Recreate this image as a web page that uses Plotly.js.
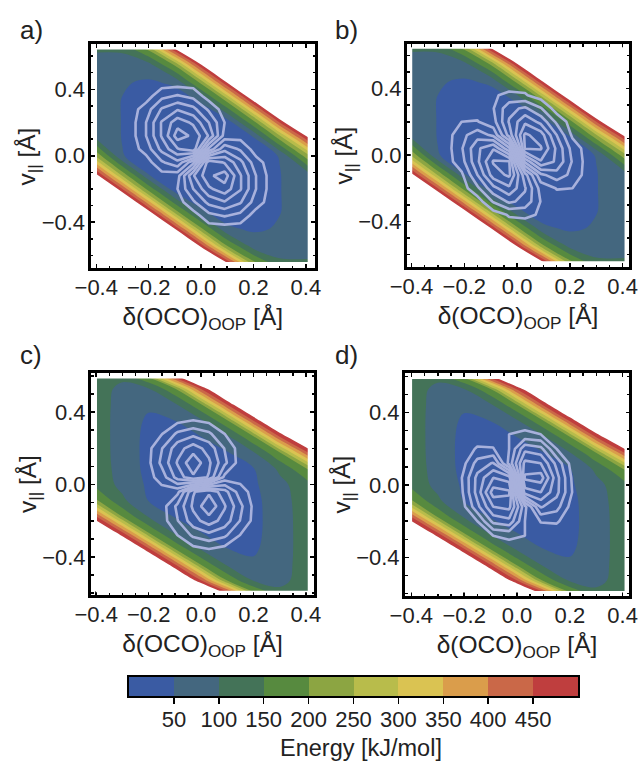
<!DOCTYPE html>
<html>
<head>
<meta charset="utf-8">
<script src="https://cdn.plot.ly/plotly-3.0.1.min.js"></script>
<style>html,body{margin:0;padding:0;background:#fff}#chart{width:638px;height:765px}</style>
</head>
<body>
<div id="chart"></div>
<script>
// Energy landscape (kJ/mol). Values above 500 are the white, off-scale area.
const ENERGY_X = [-0.4,-0.3,-0.2,-0.1,0,0.1,0.2,0.3,0.41];
const ENERGY_Y_AB = [-0.645,-0.55,-0.44,-0.33,-0.22,-0.11,0,0.11,0.22,0.33,0.44,0.55,0.645];
const ENERGY_AB = [
 [750,750,750,750,750,500,215,110,105],
 [750,750,750,750,500,210,85,75,85],
 [750,750,750,500,210,58,42,55,80],
 [750,750,500,210,55,24,28,48,80],
 [750,500,212,50,20,10,25,48,82],
 [500,220,48,18,8,8,25,48,88],
 [235,52,28,10,5,10,28,52,235],
 [88,48,25,8,8,18,48,220,500],
 [82,48,25,10,20,50,212,500,750],
 [80,48,28,24,55,210,500,750,750],
 [80,55,42,58,210,500,750,750,750],
 [85,75,85,210,500,750,750,750,750],
 [105,110,215,500,750,750,750,750,750]
];
const ENERGY_Y_CD = [-0.59,-0.528,-0.44,-0.352,-0.264,-0.176,-0.088,0,0.088,0.176,0.264,0.352,0.44,0.528,0.59];
const ENERGY_CD = [
 [650,650,650,650,650,450,192,110,128],
 [650,650,650,650,450,190,95,85,126],
 [650,650,650,450,190,90,58,80,125],
 [650,650,450,190,90,50,42,78,125],
 [650,450,192,90,50,22,36,78,125],
 [450,195,95,47,20,10,35,78,126],
 [205,110,48,22,8,8,36,80,128],
 [135,85,42,10,5,10,42,85,135],
 [128,80,36,8,8,22,48,110,205],
 [126,78,35,10,20,47,95,195,450],
 [125,78,36,22,50,90,192,450,650],
 [125,78,42,50,90,190,450,650,650],
 [125,80,58,90,190,450,650,650,650],
 [126,85,95,190,450,650,650,650,650],
 [128,110,192,450,650,650,650,650,650]
];

// Overlay field whose contour rings are the pale lines; signed per lobe.
const LOBE_X = [-0.27,-0.21,-0.15,-0.09,-0.03,0.03,0.09,0.15,0.21,0.27];
const LOBE_Y = [-0.44,-0.36,-0.28,-0.2,-0.12,-0.04,0.04,0.12,0.2,0.28,0.36,0.44];
const LOBE_A = [
 [0,0,0,0,0,0,0,0,0,0],
 [0,0,0,0,0,-1.2,-1.6,-1.2,0,0],
 [0,0,0,0,-1.3,-2.8,-3.4,-2.6,-1,0],
 [0,0,0,-0.5,-2.5,-4.3,-5.1,-3.6,-1.5,0],
 [0,0,0.1,-0.1,-3.4,-5.3,-6,-3.6,-1.5,0],
 [0,0,1.35,2.2,-0.2,-5.2,-4.4,-2.8,-0.9,0],
 [0,0.9,2.8,4.4,5.2,0.2,-2.2,-1.35,0,0],
 [0,1.5,3.6,6,5.3,3.4,0.1,-0.1,0,0],
 [0,1.5,3.6,5.1,4.3,2.5,0.5,0,0,0],
 [0,1,2.6,3.4,2.8,1.3,0,0,0,0],
 [0,0,1.2,1.6,1.2,0,0,0,0,0],
 [0,0,0,0,0,0,0,0,0,0]
];
const LOBE_B = [
 [0,0,0,0,0,0,0,0,0,0],
 [0,0,0,0,-0.6,-0.7,-0.4,0,0,0],
 [0,0,0,-1.6,-2.7,-2.2,-0.45,0.1,0,0],
 [0,0,-1.3,-3.2,-4.3,-2.6,-0.1,0.55,0.5,0],
 [0,-0.3,-2.5,-5,-5.7,-1.9,1.25,2.1,1.2,0],
 [0,-1.1,-3.3,-5.6,-5.6,1.7,4.4,3.3,1.4,0],
 [0,-1.4,-3.3,-4.4,-1.7,5.6,5.6,3.3,1.1,0],
 [0,-1.2,-2.1,-1.25,1.9,5.7,5,2.5,0.3,0],
 [0,-0.5,-0.55,0.1,2.6,4.3,3.2,1.3,0,0],
 [0,0,-0.1,0.45,2.2,2.7,1.6,0,0,0],
 [0,0,0,0.4,0.7,0.6,0,0,0,0],
 [0,0,0,0,0,0,0,0,0,0]
];
const LOBE_C = [
 [0,0,0,0,0,0,0,0,0,0],
 [0,0,0,0,-0.1,-0.4,-0.1,0,0,0],
 [0,0,0,-0.5,-1.7,-2.2,-1.7,-0.45,0,0],
 [0,0,0,-1.45,-3.1,-4,-3.1,-1.45,0,0],
 [0,0,0,-1.75,-3.7,-5.3,-3.6,-1.75,0,0],
 [0,0,0.1,-0.2,-3.4,-4.3,-2.9,-0.96,0,0],
 [0,0,0.96,2.9,4.3,3.4,0.2,-0.1,0,0],
 [0,0,1.75,3.6,5.3,3.7,1.75,0,0,0],
 [0,0,1.45,3.1,4,3.1,1.45,0,0,0],
 [0,0,0.45,1.7,2.2,1.7,0.5,0,0,0],
 [0,0,0,0.1,0.4,0.1,0,0,0,0],
 [0,0,0,0,0,0,0,0,0,0]
];
const LOBE_D = [
 [0,0,0,0,0,0,0,0,0,0],
 [0,0,0,0,0,0,0,0,0,0],
 [0,0,0,-0.5,-0.7,-0.5,0,0,0,0],
 [0,0,-0.5,-2.8,-3.2,-0.5,0.55,0.6,0,0],
 [0,0,-2.2,-4.5,-4.8,-0.8,2.6,1.9,0,0],
 [0,-0.3,-2.9,-6,-5.7,4,4.5,2.8,0.45,0],
 [0,-0.45,-2.8,-4.5,-4,5.7,6,2.9,0.3,0],
 [0,0,-1.9,-2.6,0.8,4.8,4.5,2.2,0,0],
 [0,0,-0.6,-0.55,0.5,3.2,2.8,0.5,0,0],
 [0,0,0,0,0.5,0.7,0.5,0,0,0],
 [0,0,0,0,0,0,0,0,0,0],
 [0,0,0,0,0,0,0,0,0,0]
];

const X_TICKS = [-0.4,-0.2,0,0.2,0.4];
const Y_TICKS = [-0.4,0,0.4];
const PANEL_LABELS = ['a)','b)','c)','d)'];
const BAND_MIDS = [25,75,125,175,225,275,325,375,425,475];
const BAND_TICKS = [50,100,150,200,250,300,350,400,450];
const BAND_COLORS = ['#3a5ba3','#44677f','#447358','#578a3f','#8ca542','#b8bc4b','#dac352','#da9d4b','#ca6848','#bf3e3e'];
const X_TITLE = 'δ(OCO)<sub>OOP</sub> [Å]';
const Y_TITLE = 'v<sub>||</sub> [Å]';
const BAR_TITLE = 'Energy [kJ/mol]';

const W = 638, H = 765;
const FONT = 'Liberation Sans, Arial, sans-serif';
const INK = '#222';
const LINE_COLOR = '#a8b1dc';

const panels = [
 {e:ENERGY_AB, ey:ENERGY_Y_AB, z:LOBE_A, lv:5.5, box:[90.5,315,44,268],  xr:[-0.422,0.435], yr:[-0.676,0.673], lab:[18,30]},
 {e:ENERGY_AB, ey:ENERGY_Y_AB, z:LOBE_B, lv:5.5, box:[407,629,44,267],   xr:[-0.417,0.424], yr:[-0.675,0.669], lab:[333,30]},
 {e:ENERGY_CD, ey:ENERGY_Y_CD, z:LOBE_C, lv:4.5, box:[91,314,373,595],   xr:[-0.42,0.431],  yr:[-0.61,0.616],  lab:[18,355]},
 {e:ENERGY_CD, ey:ENERGY_Y_CD, z:LOBE_D, lv:5.5, box:[405,629,373,596],  xr:[-0.424,0.424], yr:[-0.613,0.619], lab:[333,355]}
];

const fillScale = BAND_COLORS.concat(['#ffffff']).map((c,i)=>[i/10,c]);
const barScale = BAND_COLORS.map((c,i)=>[i/9,c]);

const data = [], layout = {
  width:W, height:H, margin:{l:0,r:0,t:0,b:0}, paper_bgcolor:'#fff', plot_bgcolor:'#fff',
  showlegend:false, font:{family:FONT,size:22,color:INK}, annotations:[], shapes:[]
};

panels.forEach((p,i)=>{
  const s = i===0 ? '' : String(i+1);
  const xa = 'x'+s, ya = 'y'+s;
  data.push({type:'contour', x:ENERGY_X, y:p.ey, z:p.e, xaxis:xa, yaxis:ya,
    autocontour:false, contours:{start:50,end:500,size:50,coloring:'fill',showlines:false},
    line:{width:0}, colorscale:fillScale, showscale:false, hoverinfo:'skip'});
  data.push({type:'contour', x:LOBE_X, y:LOBE_Y, z:p.z, xaxis:xa, yaxis:ya,
    autocontour:false, contours:{start:-p.lv,end:p.lv,size:1,coloring:'none'},
    line:{color:LINE_COLOR,width:2.6,smoothing:0}, showscale:false, hoverinfo:'skip'});
  layout.shapes.push({type:'rect', xref:xa, yref:ya, layer:'above',
    x0:ENERGY_X[0], x1:ENERGY_X[ENERGY_X.length-1], y0:p.ey[0], y1:p.ey[p.ey.length-1],
    line:{color:'#fff',width:1.5}, fillcolor:'rgba(0,0,0,0)'});
  const common = {showline:true, linecolor:'#000', linewidth:3, mirror:'allticks', showgrid:false, zeroline:false,
    ticks:'inside', ticklen:4, tickwidth:1.5, tickcolor:'#000', tickfont:{family:FONT,size:22,color:INK},
    tickformat:'.1f'};
  layout['xaxis'+s] = Object.assign({}, common, {anchor:ya, range:p.xr, domain:[p.box[0]/W,p.box[1]/W],
    tickmode:'array', tickvals:X_TICKS, ticklabelstandoff:-2,
    minor:{dtick:0.05,tick0:0,ticks:'inside',ticklen:2.5,tickwidth:1.5,tickcolor:'#000'},
    title:{text:X_TITLE,font:{family:FONT,size:24.5,color:INK},standoff:9}});
  layout['yaxis'+s] = Object.assign({}, common, {anchor:xa, range:p.yr, domain:[1-p.box[3]/H,1-p.box[2]/H],
    tickmode:'array', tickvals:Y_TICKS, ticklabelstandoff:-2,
    minor:{dtick:0.1,tick0:0,ticks:'inside',ticklen:2.5,tickwidth:1.5,tickcolor:'#000'}});
  layout.annotations.push({text:PANEL_LABELS[i], xref:'paper', yref:'paper', x:p.lab[0]/W, y:1-p.lab[1]/H,
    xanchor:'left', yanchor:'middle', showarrow:false, font:{family:FONT,size:26,color:INK}});
  layout.annotations.push({text:Y_TITLE, xref:'paper', yref:'paper', x:(p.box[0]-62)/W, y:1-(p.box[2]+p.box[3])/2/H,
    xanchor:'center', yanchor:'middle', textangle:-90, showarrow:false, font:{family:FONT,size:24.5,color:INK}});
});

data.push({type:'heatmap', x:BAND_MIDS, y:[0], z:[BAND_MIDS], xaxis:'x5', yaxis:'y5',
  zmin:25, zmax:475, colorscale:barScale, showscale:false, hoverinfo:'skip'});
layout.xaxis5 = {anchor:'y5', range:[0,500], domain:[129/W,578/W], showline:true, linecolor:'#000', linewidth:2, mirror:true,
  showgrid:false, zeroline:false, ticks:'outside', ticklen:6, tickwidth:1.5, tickcolor:'#000',
  tickmode:'array', tickvals:BAND_TICKS, tickfont:{family:FONT,size:22,color:INK}, ticklabelstandoff:-3};
layout.yaxis5 = {anchor:'x5', range:[-0.5,0.5], domain:[1-696/H,1-677/H], showline:true, linecolor:'#000', linewidth:2, mirror:true,
  showgrid:false, zeroline:false, ticks:'', showticklabels:false};
layout.annotations.push({text:BAR_TITLE, xref:'paper', yref:'paper', x:361/W, y:1-748/H,
  xanchor:'center', yanchor:'middle', showarrow:false, font:{family:FONT,size:23.5,color:INK}});

Plotly.newPlot('chart', data, layout, {displayModeBar:false, staticPlot:true});
</script>
</body>
</html>
